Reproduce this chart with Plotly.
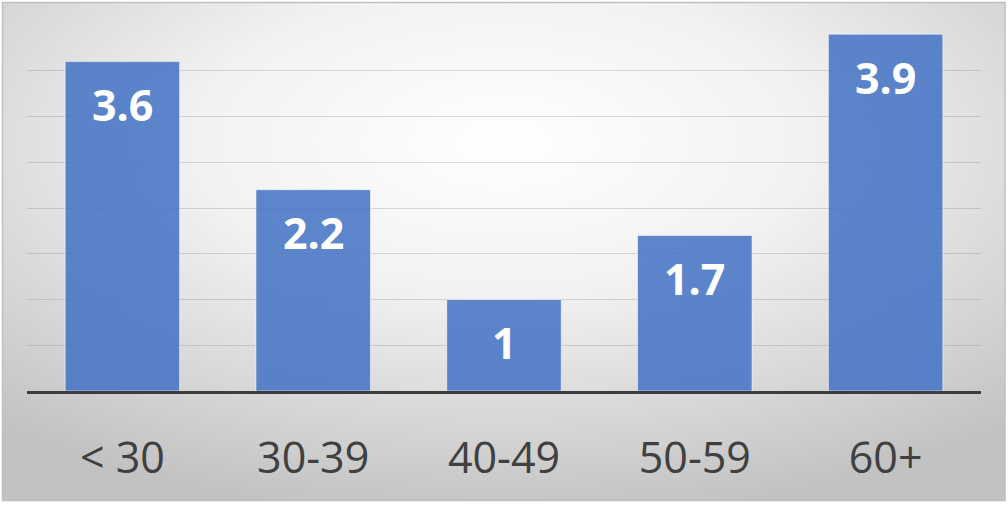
import base64
import plotly.graph_objects as go

categories = ["< 30", "30-39", "40-49", "50-59", "60+"]
values = [3.6, 2.2, 1, 1.7, 3.9]
value_labels = ["3.6", "2.2", "1", "1.7", "3.9"]

W, H = 1008, 505
ML, MR, MT, MB = 27, 27, 25, 114
PW, PH = W - ML - MR, H - MT - MB

svg = f'''<svg xmlns="http://www.w3.org/2000/svg" width="{W}" height="{H}" viewBox="0 0 {W} {H}" preserveAspectRatio="none">
<defs><radialGradient id="g" cx="50%" cy="28%" r="76%" fx="50%" fy="28%">
<stop offset="0" stop-color="#ffffff"/><stop offset="0.4" stop-color="#f2f2f2"/><stop offset="1" stop-color="#c2c2c2"/>
</radialGradient></defs>
<rect x="2.5" y="2.5" width="{W-5.5}" height="{H-7}" fill="url(#g)" stroke="#c0c0c0" stroke-width="1.5"/>
</svg>'''
src = "data:image/svg+xml;base64," + base64.b64encode(svg.encode()).decode()

fig = go.Figure()
fig.add_trace(go.Bar(
    x=categories, y=values,
    marker=dict(color="rgba(68,114,196,0.86)", line=dict(color="rgba(255,255,255,0.55)", width=1)),
    hoverinfo="skip",
))

for c, v, t in zip(categories, values, value_labels):
    fig.add_annotation(x=c, y=v, text=f"<b>{t}</b>", showarrow=False, yanchor="middle",
                       yshift=-43, font=dict(family="Open Sans", size=43, color="white"))

fig.add_layout_image(dict(source=src, xref="paper", yref="paper",
                          x=-ML / PW, y=1 + MT / PH, sizex=W / PW, sizey=H / PH,
                          xanchor="left", yanchor="top", sizing="stretch", layer="below"))

fig.update_layout(
    width=W, height=H,
    margin=dict(l=ML, r=MR, t=MT, b=MB),
    paper_bgcolor="white", plot_bgcolor="rgba(0,0,0,0)",
    bargap=0.4, showlegend=False,
    xaxis=dict(showline=True, linecolor="#3d3d3d", linewidth=3, showgrid=False,
               ticks="", tickfont=dict(family="Open Sans", size=43, color="#404040"),
               ticklabelstandoff=27, fixedrange=True),
    yaxis=dict(range=[0, 4], dtick=0.5, showgrid=True, gridcolor="rgba(120,120,120,0.26)",
               gridwidth=1.3, showticklabels=False, zeroline=False, ticks="", fixedrange=True),
)

fig.write_html("out.html", config={"displayModeBar": False},
               post_script="document.body.style.margin='0';document.body.style.overflow='hidden';")
